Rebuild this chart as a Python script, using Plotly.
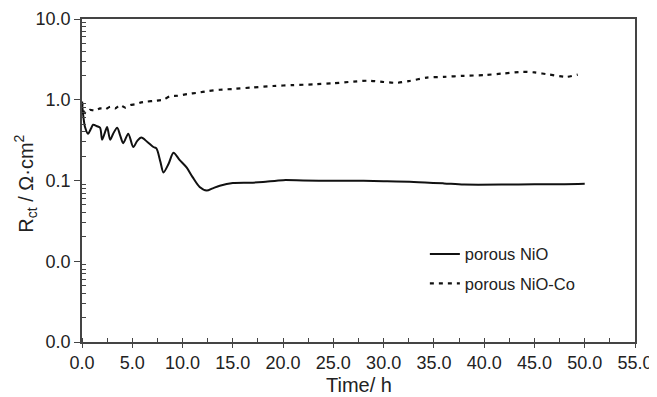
import plotly.graph_objects as go

# porous NiO (solid)
t_nio = [0.0, 0.15, 0.3, 0.6, 0.9, 1.1, 1.5, 1.8, 2.0, 2.3, 2.5, 2.8, 3.1, 3.5, 3.8, 4.1, 4.6, 5.1, 5.5, 5.9,
         6.5, 7.1, 7.4, 7.8, 8.1, 8.6, 9.1, 9.7, 10.4, 11.0, 11.7, 12.4, 13.0, 13.7, 15.0, 16.7, 18.0, 20.0,
         22.0, 25.0, 28.0, 30.0, 33.0, 36.0, 38.0, 42.0, 45.0, 48.0, 50.0]
r_nio = [0.9, 0.6, 0.46, 0.38, 0.44, 0.49, 0.47, 0.45, 0.32, 0.40, 0.46, 0.32, 0.38, 0.45, 0.36, 0.29, 0.38, 0.26, 0.31, 0.34,
         0.30, 0.26, 0.25, 0.17, 0.126, 0.16, 0.22, 0.18, 0.145, 0.11, 0.083, 0.075, 0.08, 0.086, 0.093, 0.094, 0.096, 0.101,
         0.100, 0.099, 0.099, 0.098, 0.096, 0.092, 0.089, 0.089, 0.090, 0.090, 0.091]

# porous NiO-Co (dashed)
t_co = [0.0, 0.2, 0.5, 0.8, 1.3, 1.8, 2.3, 2.8, 3.3, 3.8, 4.3, 4.8, 5.3, 5.8, 6.5, 7.2, 8.1, 8.7, 9.5, 10.5,
        11.5, 12.5, 13.7, 15.0, 17.0, 19.0, 21.0, 23.0, 25.0, 27.0, 28.5, 30.0, 31.3, 32.5, 34.3, 36.0, 38.0,
        40.0, 42.0, 43.8, 45.0, 46.5, 48.2, 49.3]
r_co = [0.95, 0.7, 0.68, 0.75, 0.73, 0.78, 0.76, 0.82, 0.78, 0.86, 0.80, 0.86, 0.88, 0.92, 0.95, 0.97, 1.0, 1.1, 1.12, 1.18,
        1.22, 1.28, 1.33, 1.36, 1.42, 1.48, 1.52, 1.55, 1.60, 1.68, 1.72, 1.66, 1.62, 1.70, 1.88, 1.92, 1.98,
        2.02, 2.12, 2.22, 2.18, 2.05, 1.92, 2.05]

y_tickvals = [0.001, 0.01, 0.1, 1, 10]
y_ticktext = ["0.0", "0.0", "0.1", "1.0", "10.0"]
x_tickvals = [0, 5, 10, 15, 20, 25, 30, 35, 40, 45, 50, 55]
y_minor_vals = [k * d for d in (0.001, 0.01, 0.1, 1) for k in range(2, 10)]
x_title = "Time/ h"
y_title = "R<sub>ct</sub> / Ω·cm<sup>2</sup>"

FONT = "Liberation Sans, Arial, sans-serif"
INK = "#222222"
AX = "#444444"

fig = go.Figure()
fig.add_trace(go.Scatter(x=t_nio, y=r_nio, mode="lines", name="porous NiO", legendgroup="a",
                         line=dict(color="#111111", width=2, shape="spline", smoothing=0.8)))
fig.add_trace(go.Scatter(x=t_co, y=r_co, mode="lines", name="porous NiO-Co", legendgroup="b",
                         line=dict(color="#111111", width=2.2, dash="4px,5px", shape="spline", smoothing=0.6)))

# the page body has an 8px margin, so the figure is drawn 8px smaller on the top/left
fig.update_layout(
    width=649, height=389,
    margin=dict(l=74, r=22, t=11, b=55),
    paper_bgcolor="white", plot_bgcolor="white",
    font=dict(family=FONT, size=18, color=INK),
    showlegend=True,
    legend=dict(x=0.62, y=0.326, xanchor="left", yanchor="top", bgcolor="rgba(0,0,0,0)",
                font=dict(size=16.5, color=INK), tracegroupgap=5, itemwidth=30),
    annotations=[
        dict(text=x_title, xref="paper", yref="paper", x=0.5, y=-43 / 322, xanchor="center", yanchor="middle",
             showarrow=False, font=dict(size=20, color=INK)),
        dict(text=y_title, xref="paper", yref="paper", x=-56 / 553, y=0.49, xanchor="center", yanchor="middle",
             textangle=-90, showarrow=False, font=dict(size=20, color=INK)),
    ],
)
fig.update_xaxes(
    range=[0, 55], tickvals=x_tickvals, tickformat=".1f", automargin=False,
    showgrid=False, zeroline=False,
    showline=True, linecolor=AX, linewidth=1.5, mirror=True,
    ticks="outside", ticklen=4, tickcolor=AX,
    minor=dict(dtick=2.5, ticks="inside", ticklen=4, tickcolor=AX, showgrid=False),
    tickfont=dict(size=18, color=INK),
)
fig.update_yaxes(
    type="log", range=[-3, 1], tickvals=y_tickvals, ticktext=y_ticktext, automargin=False,
    showgrid=False, zeroline=False,
    showline=True, linecolor=AX, linewidth=1.5, mirror=True,
    ticks="outside", ticklen=6, tickcolor=AX,
    minor=dict(tickvals=y_minor_vals, ticks="inside", ticklen=4, tickcolor=AX, showgrid=False),
    tickfont=dict(size=18, color=INK),
)

fig.write_html("out.html")
